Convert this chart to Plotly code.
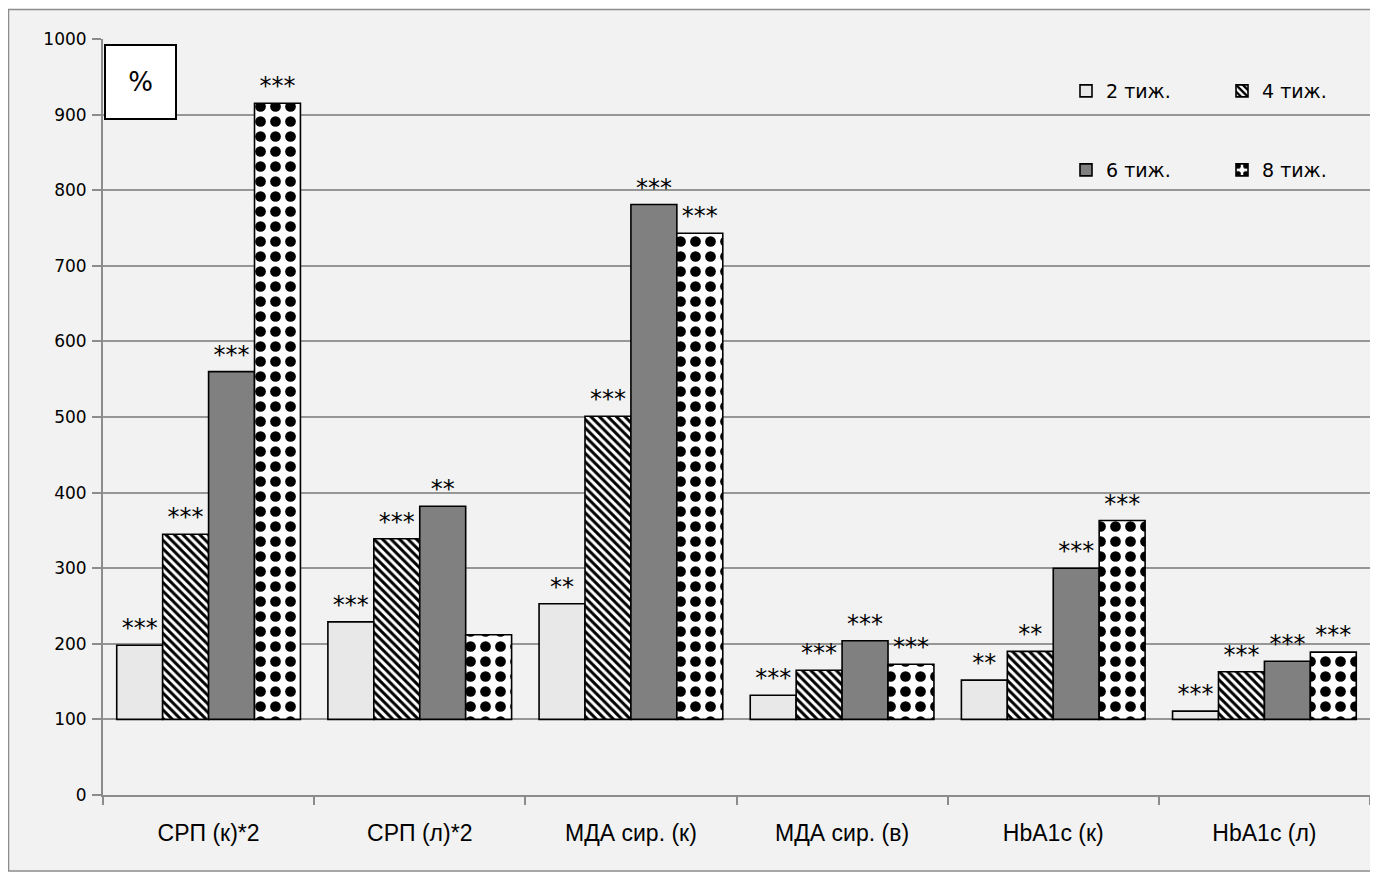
import plotly.graph_objects as go

categories = ["СРП (к)*2", "СРП (л)*2", "МДА сир. (к)", "МДА сир. (в)", "HbA1c (к)", "HbA1c (л)"]
series_names = ["2 тиж.", "4 тиж.", "6 тиж.", "8 тиж."]
v2 = [198, 229, 253, 132, 152, 111]
v4 = [345, 339, 501, 165, 190, 163]
v6 = [560, 382, 781, 204, 300, 177]
v8 = [915, 212, 743, 173, 363, 189]
s2 = ["***", "***", "**", "***", "**", "***"]
s4 = ["***", "***", "***", "***", "**", "***"]
s6 = ["***", "**", "***", "***", "***", "***"]
s8 = ["***", "", "***", "***", "***", "***"]
y_ticks = [0, 100, 200, 300, 400, 500, 600, 700, 800, 900, 1000]
base_value = 100

OFF = 8  # body margin of the html page
W, H = 1378 - 2 * OFF, 880 - 2 * OFF
L, T = 103 - OFF, 39 - OFF
R = 0
B = H - (795 - OFF)
pw, ph = W - L - R, H - T - B

def px_x(p):
    return (p - OFF - L) / pw

def px_y(p):
    return (H - B - (p - OFF)) / ph

styles = [
    dict(color="#e8e8e8"),
    dict(color="white", pattern=dict(shape="\\", fgcolor="black", bgcolor="white", fgopacity=1,
                                     size=6, solidity=0.5, fillmode="replace")),
    dict(color="#808080"),
    dict(color="white", pattern=dict(shape=".", fgcolor="black", bgcolor="white", fgopacity=1,
                                     size=15, solidity=0.4, fillmode="replace")),
]

fig = go.Figure()
values = [v2, v4, v6, v8]
stars = [s2, s4, s6, s8]
legends = ["legend", "legend2", "legend3", "legend4"]
for name, vals, st, sty, lg in zip(series_names, values, stars, styles, legends):
    marker = dict(line=dict(color="black", width=1.6), **sty)
    fig.add_trace(go.Bar(
        name=name, x=categories, y=[v - base_value for v in vals], base=base_value,
        marker=marker, text=st, textposition="outside",
        textfont=dict(family="DejaVu Sans", size=24, color="black"),
        constraintext="none", cliponaxis=False, legend=lg,
        hoverinfo="skip",
    ))

fig.add_shape(type="rect", xref="paper", yref="paper",
              x0=px_x(8.5), x1=px_x(1390), y0=px_y(871), y1=px_y(9.5),
              fillcolor="#f2f2f2", line=dict(color="#8c8c8c", width=1.5), layer="below")

fig.add_annotation(xref="paper", yref="y", x=px_x(104), y=993, xanchor="left", yanchor="top",
                   text="%", showarrow=False, font=dict(family="DejaVu Sans", size=26, color="black"),
                   bgcolor="white", bordercolor="black", borderwidth=2, width=67, height=70)

legend_font = dict(family="DejaVu Sans", size=19, color="black")
legend_pos = [(1066, 91), (1222, 91), (1066, 170), (1222, 170)]
legend_layout = {}
for lg, (lx, ly) in zip(legends, legend_pos):
    legend_layout[lg] = dict(x=px_x(lx), xanchor="left", y=px_y(ly), yanchor="middle",
                             bgcolor="rgba(0,0,0,0)", font=legend_font)

fig.update_layout(
    width=W, height=H, autosize=False,
    margin=dict(l=L, r=R, t=T, b=B, pad=0),
    paper_bgcolor="white", plot_bgcolor="#f2f2f2",
    barmode="group", bargap=0.13, bargroupgap=0,
    font=dict(family="DejaVu Sans", color="black"),
    showlegend=True,
    **legend_layout,
)
fig.update_xaxes(showline=True, linecolor="#8c8c8c", linewidth=2, ticks="outside", tickson="boundaries",
                 ticklen=8, tickcolor="#8c8c8c", tickwidth=1.5, showgrid=False,
                 tickfont=dict(family="Liberation Sans", size=23, color="black"),
                 ticklabelstandoff=16)
fig.update_yaxes(range=[0, 1000], tickvals=y_ticks, showline=True, linecolor="#8c8c8c", linewidth=2,
                 ticks="outside", ticklen=9, tickcolor="#8c8c8c", tickwidth=1.5,
                 showgrid=True, gridcolor="#969696", gridwidth=2, zeroline=False,
                 tickfont=dict(family="DejaVu Sans", size=17, color="black"), ticklabelstandoff=2)

fig.write_html("out.html")
